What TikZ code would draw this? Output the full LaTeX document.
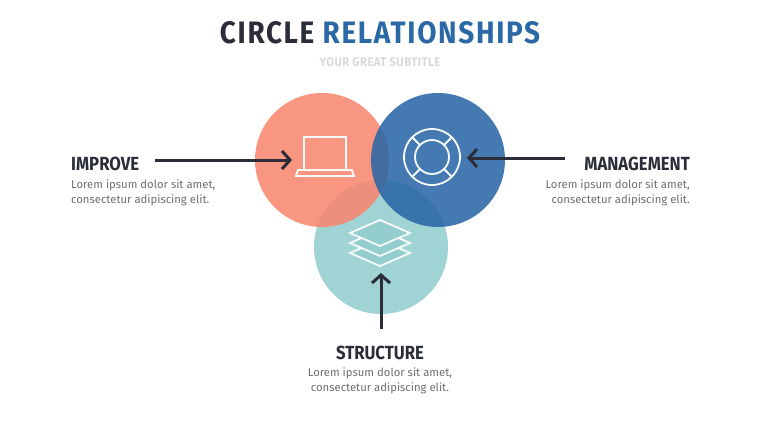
\documentclass[tikz,border=0pt]{standalone}
\usepackage{fontspec}
\setmainfont{Fira Sans}
\usetikzlibrary{arrows.meta,calc}
\definecolor{cred}{HTML}{F7876F}
\definecolor{cblue}{HTML}{2A68A6}
\definecolor{cteal}{HTML}{93CDCE}
\definecolor{dark}{HTML}{2B2E38}
\definecolor{gray1}{HTML}{6E6E73}
\begin{document}
\begin{tikzpicture}[x=1pt,y=-1pt,
  circ/.style={circle,minimum size=134pt,inner sep=0pt,fill opacity=0.88},
  arr/.style={draw=dark,line width=3pt,-{Straight Barb[length=8pt,width=18pt,line width=3pt]}},
  head/.style={font=\bfseries\fontsize{19}{20}\selectfont,text=dark},
  body/.style={font=\fontsize{11.3}{15}\selectfont,text=gray1,inner sep=0pt},
  icon/.style={draw=white!92!cteal,line width=1.8pt}]
\useasboundingbox (0,0) rectangle (760,428);
\node[head] (t) at (380,33) {\scalebox{0.9}[1]{\fontsize{31}{32}\selectfont\addfontfeature{LetterSpace=6} CIRCLE \textcolor{cblue}{RELATIONSHIPS}}};
\node[font=\bfseries\fontsize{12.5}{13}\selectfont,text=black!15] (st) at (380,62) {\scalebox{0.9}[1]{\addfontfeature{LetterSpace=4}YOUR GREAT SUBTITLE}};
\node[circ,fill=cteal] (c3) at (381,247) {};
\node[circ,fill=cred] (c1) at (322,160) {};
\node[circ,fill=cblue] (c2) at (438,160) {};
% laptop
\draw[icon] (304,137) rectangle (346,170);
\draw[icon] (298,170) -- (352,170) -- (354,176) -- (296,176) -- cycle;
% lifebuoy
\draw[icon] (432,157) circle (28);
\draw[icon] (432,157) circle (17);
\foreach \a in {45,135,225,315}{\draw[icon] ($(432,157)+(\a:17)$) -- ($(432,157)+(\a:28)$);}
% layers
\foreach \dy in {20,10,0}{\draw[icon,fill=cteal] (380,{220+\dy}) -- (410,{233+\dy}) -- (380,{246+\dy}) -- (350,{233+\dy}) -- cycle;}
\coordinate (a1s) at (155,160); \coordinate (a1e) at (292,160);
\coordinate (a2s) at (565,158); \coordinate (a2e) at (467,158);
\coordinate (a3s) at (381,329); \coordinate (a3e) at (381,273);
\draw[arr] (a1s) -- (a1e);
\draw[arr] (a2s) -- (a2e);
\draw[arr] (a3s) -- (a3e);
\node[head,anchor=west,inner sep=0pt] (h1) at (71,164) {\scalebox{0.88}[1]{IMPROVE}};
\node[body,anchor=north west,align=left] (b1) at (71,179) {Lorem ipsum dolor sit amet,\\consectetur adipiscing elit.};
\node[head,anchor=east,inner sep=0pt] (h2) at (690,164) {\scalebox{0.88}[1]{MANAGEMENT}};
\node[body,anchor=north east,align=right] (b2) at (690,179) {Lorem ipsum dolor sit amet,\\consectetur adipiscing elit.};
\node[head,inner sep=0pt] (h3) at (380,353) {\scalebox{0.88}[1]{STRUCTURE}};
\node[body,anchor=north,align=center] (b3) at (380,367) {Lorem ipsum dolor sit amet,\\consectetur adipiscing elit.};
\end{tikzpicture}
\end{document}
